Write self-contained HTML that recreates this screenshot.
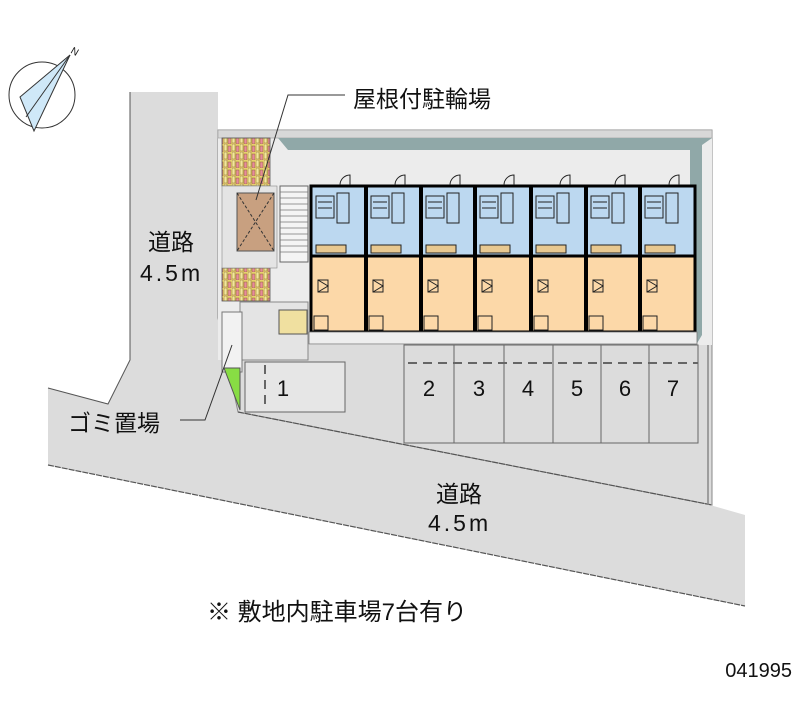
<!DOCTYPE html>
<html><head><meta charset="utf-8"><style>
html,body{margin:0;padding:0;background:#fff;width:800px;height:727px;overflow:hidden}
svg{display:block}
text{font-family:"Liberation Sans","Noto Sans CJK JP",sans-serif;fill:#111}
</style></head><body>
<svg width="800" height="727" viewBox="0 0 800 727" xmlns="http://www.w3.org/2000/svg">
<defs>
<pattern id="brick" width="8" height="8" patternUnits="userSpaceOnUse">
<rect width="8" height="8" fill="#e8d070"/>
<rect x="0" y="0" width="3" height="7" fill="#f3e79a" stroke="#8a6a30" stroke-width="0.5"/>
<rect x="4" y="2" width="3" height="6" fill="#e88a9a" stroke="#8a6a30" stroke-width="0.5"/>
</pattern>
</defs>
<!-- roads -->
<polygon points="130,92 218,92 218,318 238,412 710,505 745,515 745,606 48,465 48,388 108,404 130,360" fill="#dcdcdc"/>
<polyline points="130,92 130,360 108,404 48,388" fill="none" stroke="#555" stroke-width="1"/>
<line x1="48" y1="465" x2="745" y2="606" stroke="#555" stroke-width="1.2" stroke-dasharray="6,1"/>
<!-- site -->
<polygon points="218,130 712,130 712,505 238,412 218,318" fill="#dcdcdc" stroke="#888" stroke-width="1"/>
<rect x="218" y="130" width="494" height="215" fill="#ececec"/>
<rect x="218" y="300" width="90" height="60" fill="#ececec"/>
<line x1="238" y1="412" x2="712" y2="505" stroke="#555" stroke-width="1.2" stroke-dasharray="6,1"/>
<line x1="708" y1="345" x2="708" y2="505" stroke="#888" stroke-width="1.5"/>
<rect x="218" y="130" width="494" height="8" fill="#d8d8d8" stroke="#999" stroke-width="0.6"/>
<!-- roof band -->
<polygon points="278,138 712,138 702,145 702,335 696,345 690,345 690,150 288,150" fill="#90a8a8"/>
<rect x="288" y="150" width="402" height="195" fill="#ececec"/>
<g fill="#dcdcdc" stroke="#666" stroke-width="1">
<rect x="404" y="345" width="50" height="98"/><rect x="454" y="345" width="50" height="98"/>
<rect x="504" y="345" width="49" height="98"/><rect x="553" y="345" width="48" height="98"/>
<rect x="601" y="345" width="48" height="98"/><rect x="649" y="345" width="49" height="98"/>
<rect x="245" y="362" width="100" height="50" fill="#e6e6e6"/>
</g>
<g stroke="#666" stroke-width="2" stroke-dasharray="9,6"><line x1="408" y1="363" x2="698" y2="363"/><line x1="265" y1="365" x2="265" y2="410"/></g>
<g font-size="22" text-anchor="middle">
<text x="429" y="396">2</text><text x="479" y="396">3</text><text x="528" y="396">4</text>
<text x="577" y="396">5</text><text x="625" y="396">6</text><text x="673" y="396">7</text><text x="283" y="396">1</text>
</g>
<!-- left facilities -->
<rect x="222" y="138" width="48" height="48" fill="url(#brick)" stroke="#555" stroke-width="0.8"/>
<rect x="222" y="268" width="48" height="33" fill="url(#brick)" stroke="#555" stroke-width="0.8"/>
<rect x="222" y="186" width="55" height="82" fill="#e4e4e4" stroke="#888" stroke-width="0.6"/>
<rect x="237" y="193" width="37" height="58" fill="#c8a080" stroke="#555"/>
<path d="M237,193 L274,251 M274,193 L237,251" stroke="#333" stroke-dasharray="3,2" fill="none"/>
<rect x="280" y="186" width="28" height="76" fill="#f4f4f4" stroke="#666"/>
<g stroke="#777" stroke-width="0.8"><line x1="280" y1="192" x2="308" y2="192"/><line x1="280" y1="198" x2="308" y2="198"/><line x1="280" y1="204" x2="308" y2="204"/><line x1="280" y1="210" x2="308" y2="210"/><line x1="280" y1="216" x2="308" y2="216"/><line x1="280" y1="222" x2="308" y2="222"/><line x1="280" y1="228" x2="308" y2="228"/><line x1="280" y1="234" x2="308" y2="234"/><line x1="280" y1="240" x2="308" y2="240"/><line x1="280" y1="246" x2="308" y2="246"/><line x1="280" y1="252" x2="308" y2="252"/></g>
<rect x="240" y="302" width="68" height="58" fill="#e4e4e4" stroke="#888"/>
<rect x="279" y="310" width="28" height="24" fill="#f0e0a0" stroke="#555"/>
<rect x="222" y="312" width="20" height="60" fill="#f2f2f2" stroke="#777"/>
<polygon points="224,368 240,368 240,410" fill="#88dd44" stroke="#555"/>
<!-- units -->
<g stroke="#000" stroke-width="3">
<rect x="311" y="186" width="384" height="70" fill="#bcd8f0"/>
<rect x="311" y="256" width="384" height="76" fill="#fcd8a8"/>
<g stroke-width="4">
<line x1="366" y1="186" x2="366" y2="332"/><line x1="421" y1="186" x2="421" y2="332"/>
<line x1="475" y1="186" x2="475" y2="332"/><line x1="531" y1="186" x2="531" y2="332"/>
<line x1="586" y1="186" x2="586" y2="332"/><line x1="640" y1="186" x2="640" y2="332"/>
</g>
</g>
<g id="u" fill="none" stroke="#222" stroke-width="1">
<rect x="316" y="196" width="18" height="22"/><rect x="337" y="193" width="12" height="30"/>
<line x1="318" y1="202" x2="332" y2="202"/><line x1="318" y1="208" x2="332" y2="208"/>
<rect x="316" y="245" width="30" height="8" fill="#e8c890"/>
<rect x="318" y="280" width="10" height="12"/>
<path d="M318,280 L328,286 L318,292"/>
<rect x="314" y="316" width="14" height="14"/>
<path d="M340,185 A10,10 0 0 1 350,175 L350,185"/>
</g>
<use href="#u" x="55"/><use href="#u" x="110"/><use href="#u" x="164"/><use href="#u" x="220"/><use href="#u" x="275"/><use href="#u" x="329"/>
<rect x="309" y="332" width="388" height="12" fill="#eeeeee" stroke="#777" stroke-width="0.8"/>
<!-- compass -->
<g transform="translate(42,95)">
<ellipse cx="0" cy="0" rx="33" ry="33" fill="none" stroke="#333"/>
<polygon points="28,-40 -22,2 -8,36" fill="#cfe8f8" stroke="#333"/>
<line x1="28" y1="-40" x2="-16" y2="22" stroke="#333"/>
<text x="30" y="-42" font-size="10" transform="rotate(30 30 -46)">N</text>
</g>
<!-- leaders -->
<polyline points="256,200 288,95 345,95" fill="none" stroke="#333"/>
<polyline points="232,345 205,420 180,420" fill="none" stroke="#333"/>
<!-- labels -->
<text x="353" y="107" font-size="23">屋根付駐輪場</text>
<text x="148" y="250" font-size="23">道路</text>
<text x="140" y="281" font-size="23" letter-spacing="3">4.5m</text>
<text x="68" y="431" font-size="23">ゴミ置場</text>
<text x="436" y="502" font-size="23">道路</text>
<text x="428" y="531" font-size="23" letter-spacing="3">4.5m</text>
<text x="207" y="620" font-size="24">※ 敷地内駐車場7台有り</text>
<text x="792" y="677" font-size="20" text-anchor="end">041995</text>
</svg>
</body></html>
